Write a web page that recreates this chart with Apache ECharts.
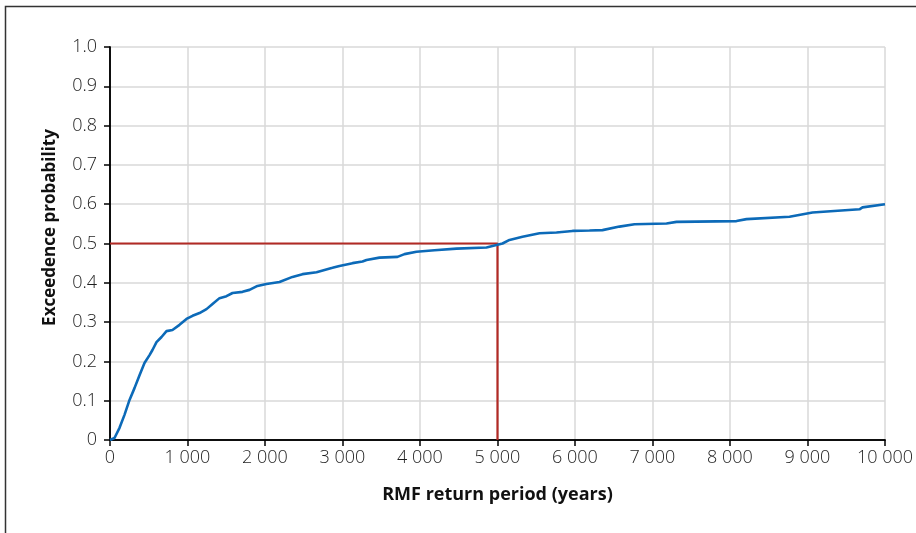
<!DOCTYPE html>
<html>
<head>
<meta charset="utf-8">
<script src="https://cdn.jsdelivr.net/npm/echarts@6/dist/echarts.min.js"></script>
<style>
  html, body { margin: 0; padding: 0; background: #fff; }
  #main { width: 916px; height: 533px; }
</style>
</head>
<body>
<div id="main"></div>
<script>
// return period (years) and exceedance probability
var returnPeriod = [0, 6, 58, 123, 187, 252, 316, 381, 445, 510, 548, 600, 665, 729, 806, 897, 987, 1065, 1155, 1245, 1323, 1413, 1503, 1581, 1710, 1800, 1903, 2019, 2187, 2355, 2484, 2665, 2871, 2961, 3129, 3258, 3310, 3477, 3710, 3800, 3955, 4187, 4471, 4858, 4987, 5065, 5155, 5323, 5542, 5761, 5968, 6187, 6355, 6574, 6768, 7181, 7310, 8084, 8213, 8768, 9065, 9671, 9710, 10000];
var exceedProb = [0, 0.002, 0.005, 0.031, 0.064, 0.102, 0.132, 0.165, 0.196, 0.216, 0.229, 0.249, 0.262, 0.277, 0.280, 0.293, 0.308, 0.316, 0.323, 0.333, 0.346, 0.361, 0.366, 0.374, 0.377, 0.382, 0.392, 0.397, 0.402, 0.415, 0.422, 0.427, 0.438, 0.443, 0.450, 0.454, 0.458, 0.464, 0.466, 0.473, 0.479, 0.483, 0.487, 0.490, 0.496, 0.500, 0.509, 0.517, 0.526, 0.528, 0.532, 0.533, 0.534, 0.543, 0.549, 0.551, 0.555, 0.557, 0.562, 0.568, 0.579, 0.587, 0.592, 0.600];

// guide lines for the 5000-year return period
var guideX = [0, 5000, 5000];
var guideY = [0.5, 0.5, 0];

var xTitle = 'RMF return period (years)';
var yTitle = 'Exceedence probability';

function zip(a, b) {
  var out = [];
  for (var i = 0; i < a.length; i++) out.push([a[i], b[i]]);
  return out;
}

var labelFont = { fontFamily: 'Open Sans', fontSize: 18, fontWeight: 300, color: '#1e1e1e' };

var chart = echarts.init(document.getElementById('main'), null, { renderer: 'canvas' });

var option = {
  backgroundColor: '#fff',
  animation: false,
  graphic: [{
    type: 'rect',
    shape: { x: 5.5, y: 6.5, width: 1000, height: 1000 },
    style: { fill: 'none', stroke: '#333', lineWidth: 1.5 },
    silent: true
  }],
  grid: { left: 110, right: 31, top: 47, bottom: 93 },
  xAxis: [{
    type: 'value',
    min: 0, max: 10000, interval: 1000,
    name: xTitle,
    nameLocation: 'middle',
    nameGap: 46,
    nameTextStyle: { fontFamily: 'Open Sans', fontSize: 18, fontWeight: 'bold', color: '#111' },
    axisLine: { lineStyle: { color: '#000', width: 1.5 } },
    axisTick: { show: true, length: 6, lineStyle: { color: '#000', width: 1.5 } },
    axisLabel: Object.assign({
      margin: 9,
      formatter: function (v) {
        return v >= 1000 ? Math.floor(v / 1000) + ' 000' : String(v);
      }
    }, labelFont),
    splitLine: { show: true, lineStyle: { color: '#d9d9d9', width: 1.5 } }
  }, {
    type: 'value', position: 'top',
    min: 0, max: 10000,
    axisLine: { show: true, lineStyle: { color: '#000', width: 1.5 } },
    axisTick: { show: false }, axisLabel: { show: false }, splitLine: { show: false }
  }],
  yAxis: [{
    type: 'value',
    min: 0, max: 1, interval: 0.1,
    name: yTitle,
    nameLocation: 'middle',
    nameGap: 51,
    nameRotate: 90,
    nameTextStyle: { fontFamily: 'Open Sans', fontSize: 17, fontWeight: 'bold', color: '#111', padding: [0, 0, 0, 32] },
    axisLine: { show: true, lineStyle: { color: '#000', width: 1.5 } },
    axisTick: { show: true, length: 6, lineStyle: { color: '#000', width: 1.5 } },
    axisLabel: Object.assign({
      margin: 13,
      formatter: function (v) { return v === 0 ? '0' : v.toFixed(1); }
    }, labelFont),
    splitLine: { show: true, lineStyle: { color: '#d9d9d9', width: 1.5 } }
  }, {
    type: 'value', position: 'right',
    min: 0, max: 1,
    axisLine: { show: true, lineStyle: { color: '#000', width: 1.5 } },
    axisTick: { show: false }, axisLabel: { show: false }, splitLine: { show: false }
  }],
  series: [{
    name: 'guide',
    type: 'line',
    data: zip(guideX, guideY),
    showSymbol: false,
    lineStyle: { color: '#b22a25', width: 2.2 },
    z: 2
  }, {
    name: 'exceedance',
    type: 'line',
    data: zip(returnPeriod, exceedProb),
    showSymbol: false,
    lineStyle: { color: '#0c6ab8', width: 2.6 },
    z: 3
  }]
};

option && chart.setOption(option);
</script>
</body>
</html>
